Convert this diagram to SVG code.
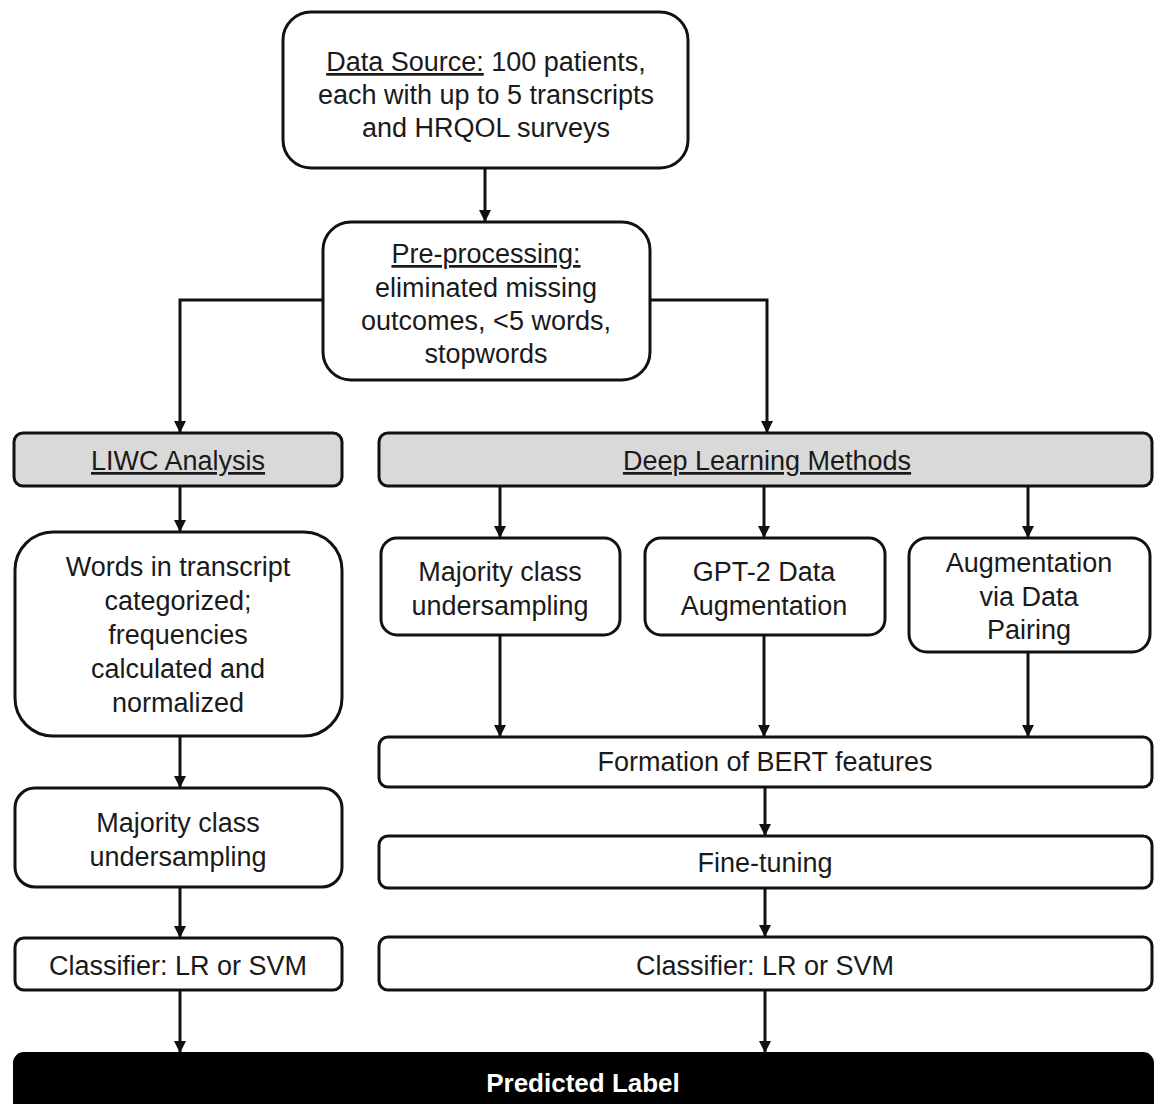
<svg xmlns="http://www.w3.org/2000/svg" width="1154" height="1104" viewBox="0 0 1154 1104">
<style>
.box{fill:#fff;stroke:#111;stroke-width:3}
.hdr{fill:#d9d9d9;stroke:#111;stroke-width:3}
.t{font-family:"Liberation Sans",Arial,sans-serif;font-size:27px;fill:#1a1a1a;text-anchor:middle}
.u{text-decoration:underline}
.w{font-family:"Liberation Sans",Arial,sans-serif;font-size:26px;font-weight:bold;fill:#fff;text-anchor:middle}
.c{fill:none;stroke:#111;stroke-width:3}
</style>
<defs>
<marker id="ah" viewBox="0 0 10 10" refX="10" refY="5" markerWidth="4" markerHeight="4" orient="auto" markerUnits="strokeWidth">
<path d="M0,0 L10,5 L0,10 z" fill="#111"/>
</marker>
</defs>
<rect width="1154" height="1104" fill="#fff"/>
<g id="connectors">
<path class="c" d="M485,168 V222" marker-end="url(#ah)"/>
<path class="c" d="M323,300 H180 V433" marker-end="url(#ah)"/>
<path class="c" d="M650,300 H767 V433" marker-end="url(#ah)"/>
<path class="c" d="M180,486 V532" marker-end="url(#ah)"/>
<path class="c" d="M180,736 V788" marker-end="url(#ah)"/>
<path class="c" d="M180,887 V938" marker-end="url(#ah)"/>
<path class="c" d="M180,990 V1053" marker-end="url(#ah)"/>
<path class="c" d="M500,486 V538" marker-end="url(#ah)"/>
<path class="c" d="M764,486 V538" marker-end="url(#ah)"/>
<path class="c" d="M1028,486 V538" marker-end="url(#ah)"/>
<path class="c" d="M500,635 V737" marker-end="url(#ah)"/>
<path class="c" d="M764,635 V737" marker-end="url(#ah)"/>
<path class="c" d="M1028,652 V737" marker-end="url(#ah)"/>
<path class="c" d="M765,787 V836" marker-end="url(#ah)"/>
<path class="c" d="M765,888 V937" marker-end="url(#ah)"/>
<path class="c" d="M765,990 V1053" marker-end="url(#ah)"/>
</g>
<g id="data-source">
<rect class="box" x="283" y="12" width="405" height="156" rx="28"/>
<text class="t" x="486" y="71"><tspan class="u">Data Source:</tspan> 100 patients,</text>
<text class="t" x="486" y="104">each with up to 5 transcripts</text>
<text class="t" x="486" y="137">and HRQOL surveys</text>
</g>
<g id="pre-processing">
<rect class="box" x="323" y="222" width="327" height="158" rx="28"/>
<text class="t u" x="486" y="263">Pre-processing:</text>
<text class="t" x="486" y="297">eliminated missing</text>
<text class="t" x="486" y="330">outcomes, &lt;5 words,</text>
<text class="t" x="486" y="363">stopwords</text>
</g>
<g id="liwc">
<rect class="hdr" x="14" y="433" width="328" height="53" rx="9"/>
<text class="t u" x="178" y="470">LIWC Analysis</text>
</g>
<g id="dlm">
<rect class="hdr" x="379" y="433" width="773" height="53" rx="9"/>
<text class="t u" x="767" y="470">Deep Learning Methods</text>
</g>
<g id="words">
<rect class="box" x="15" y="532" width="327" height="204" rx="38"/>
<text class="t" x="178" y="576">Words in transcript</text>
<text class="t" x="178" y="610">categorized;</text>
<text class="t" x="178" y="644">frequencies</text>
<text class="t" x="178" y="678">calculated and</text>
<text class="t" x="178" y="712">normalized</text>
</g>
<g id="majority-left">
<rect class="box" x="15" y="788" width="327" height="99" rx="20"/>
<text class="t" x="178" y="832">Majority class</text>
<text class="t" x="178" y="866">undersampling</text>
</g>
<g id="classifier-left">
<rect class="box" x="15" y="938" width="327" height="52" rx="9"/>
<text class="t" x="178" y="975">Classifier: LR or SVM</text>
</g>
<g id="majority-right">
<rect class="box" x="381" y="538" width="239" height="97" rx="16"/>
<text class="t" x="500" y="581">Majority class</text>
<text class="t" x="500" y="615">undersampling</text>
</g>
<g id="gpt2">
<rect class="box" x="645" y="538" width="240" height="97" rx="16"/>
<text class="t" x="764" y="581">GPT-2 Data</text>
<text class="t" x="764" y="615">Augmentation</text>
</g>
<g id="pairing">
<rect class="box" x="909" y="538" width="241" height="114" rx="18"/>
<text class="t" x="1029" y="572">Augmentation</text>
<text class="t" x="1029" y="606">via Data</text>
<text class="t" x="1029" y="639">Pairing</text>
</g>
<g id="bert">
<rect class="box" x="379" y="737" width="773" height="50" rx="9"/>
<text class="t" x="765" y="771">Formation of BERT features</text>
</g>
<g id="finetune">
<rect class="box" x="379" y="836" width="773" height="52" rx="9"/>
<text class="t" x="765" y="872">Fine-tuning</text>
</g>
<g id="classifier-right">
<rect class="box" x="379" y="937" width="773" height="53" rx="9"/>
<text class="t" x="765" y="975">Classifier: LR or SVM</text>
</g>
<g id="predicted">
<rect x="14" y="1053" width="1139" height="70" rx="10" fill="#000" stroke="#000" stroke-width="2"/>
<text class="w" x="583" y="1092">Predicted Label</text>
</g>
</svg>
